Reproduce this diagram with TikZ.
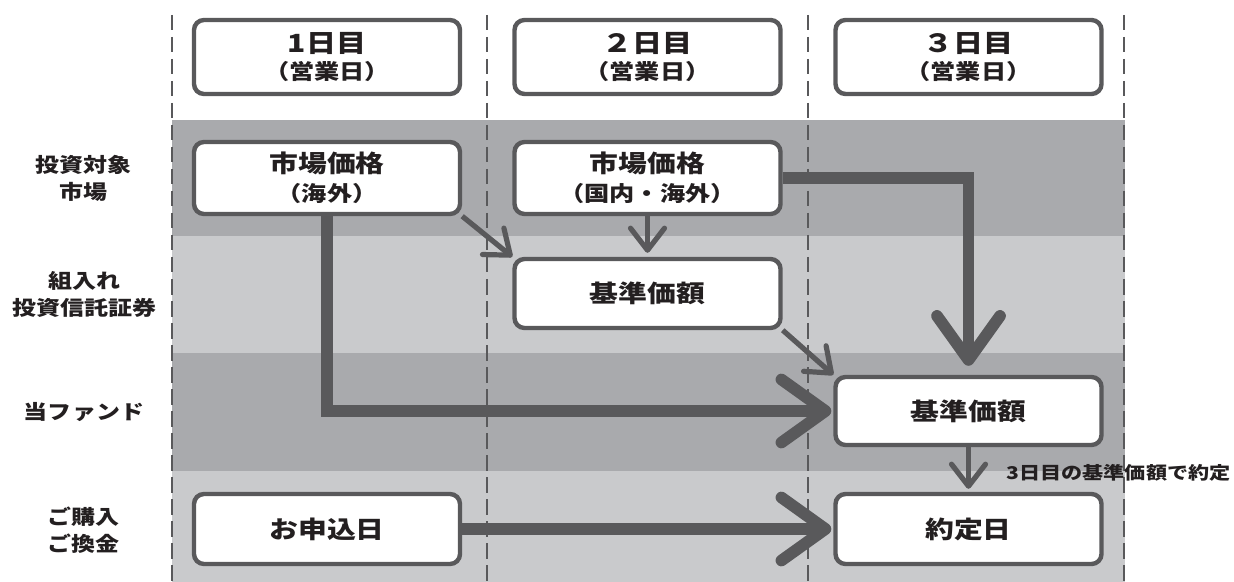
\documentclass[tikz,border=0pt]{standalone}
\usepackage{fontspec}
\setmainfont{Noto Sans CJK JP}[FakeStretch=1.2]
\usetikzlibrary{arrows.meta,positioning}
\definecolor{bandDark}{HTML}{A9AAAD}
\definecolor{bandLight}{HTML}{C9CACC}
\definecolor{lineGray}{HTML}{59595B}
\definecolor{textBlack}{HTML}{231F20}
\newcommand{\bigjp}{\bfseries\fontsize{12.5}{15}\selectfont}
\newcommand{\midjp}{\bfseries\fontsize{12}{15}\selectfont}
\newcommand{\smalljp}{\bfseries\fontsize{10.5}{15}\selectfont}
\tikzset{
    raw box/.style={rectangle, rounded corners=5pt, draw=lineGray, line width=2.2pt, fill=white, align=center, text=textBlack, inner sep=0pt, minimum width=133pt},
    day box/.style={raw box, minimum height=37pt},
    row label/.style={align=center, text=textBlack, font=\bfseries\fontsize{10}{13.5}\selectfont},
    note label/.style={anchor=west, text=textBlack, inner sep=0pt, font=\bfseries\fontsize{8.8}{11}\selectfont},
    big arrow/.style={draw=lineGray, line width=5.85pt, -{Straight Barb[length=22pt,width=31.5pt,round]}},
    small arrow/.style={draw=lineGray, line width=2.6pt, -{Straight Barb[length=11pt,width=17pt,round]}},
    day line/.style={lineGray, line width=1pt, dash pattern=on 7.75pt off 3.25pt}
}

\begin{document}
\begin{tikzpicture}[x=0.5pt, y=-0.5pt]
    \useasboundingbox (0,0) rectangle (1234,582);
    % bands
    \fill[bandDark] (172,120) rectangle (1125,236);
    \fill[bandLight] (172,236) rectangle (1125,353);
    \fill[bandDark] (172,353) rectangle (1125,471);
    \fill[bandLight] (172,471) rectangle (1125,582);
    \foreach \x in {172,487,808,1124}
        \draw[day line] (\x,15) -- (\x,582);

    % row labels
    \node[row label] (labelmarket) at (83,178) {投資対象\\市場};
    \node[row label] (labeltrust) at (84,294) {組入れ\\投資信託証券};
    \node[row label] (labelfund) at (84,412) {当ファンド};
    \node[row label] (labelorder) at (83,530) {ご購入\\ご換金};

    % days
    \node[day box] (nodeday1) at (327,57) {{\bigjp 1日目}\\[1.5pt]{\smalljp （営業日）}};
    \node[day box] (nodeday2) at (647.5,57) {{\bigjp ２日目}\\[1.5pt]{\smalljp （営業日）}};
    \node[day box] (nodeday3) at (968.5,57) {{\bigjp ３日目}\\[1.5pt]{\smalljp （営業日）}};

    % boxes
    \node[raw box, minimum height=36pt] (nodemarket1) at (327,178) {{\midjp 市場価格}\\[2.5pt]{\smalljp （海外）}};
    \node[raw box, minimum height=36pt] (nodemarket2) at (647.5,178) {{\midjp 市場価格}\\[2.5pt]{\smalljp （国内・海外）}};
    \node[raw box, minimum height=34.5pt] (nodetrust2) at (647.5,293.5) {\midjp 基準価額};
    \node[raw box, minimum height=34pt] (nodefund3) at (968.5,411) {\midjp 基準価額};
    \node[raw box, minimum height=35pt] (nodeorder1) at (327,529) {\midjp お申込日};
    \node[raw box, minimum height=35pt] (nodesettle3) at (968.5,529) {\midjp 約定日};
    \node[note label] (notesettle) at (1006,473) {3日目の基準価額で約定};

    % arrows
    \draw[big arrow, shorten >=1pt] (nodemarket1.south) |- (nodefund3.west);
    \draw[big arrow, shorten >=4.5pt] (nodemarket2.east) -| (nodefund3.north);
    \draw[big arrow, shorten >=1pt] (nodeorder1.east) -- (nodesettle3.west);
    \draw[small arrow] (nodemarket1.south east) -- (nodetrust2.north west);
    \draw[small arrow, shorten >=2pt] (nodemarket2.south) -- (nodetrust2.north);
    \draw[small arrow] (nodetrust2.south east) -- (nodefund3.north west);
    \draw[small arrow, shorten >=1.5pt] (nodefund3.south) -- (nodesettle3.north);
\end{tikzpicture}
\end{document}
